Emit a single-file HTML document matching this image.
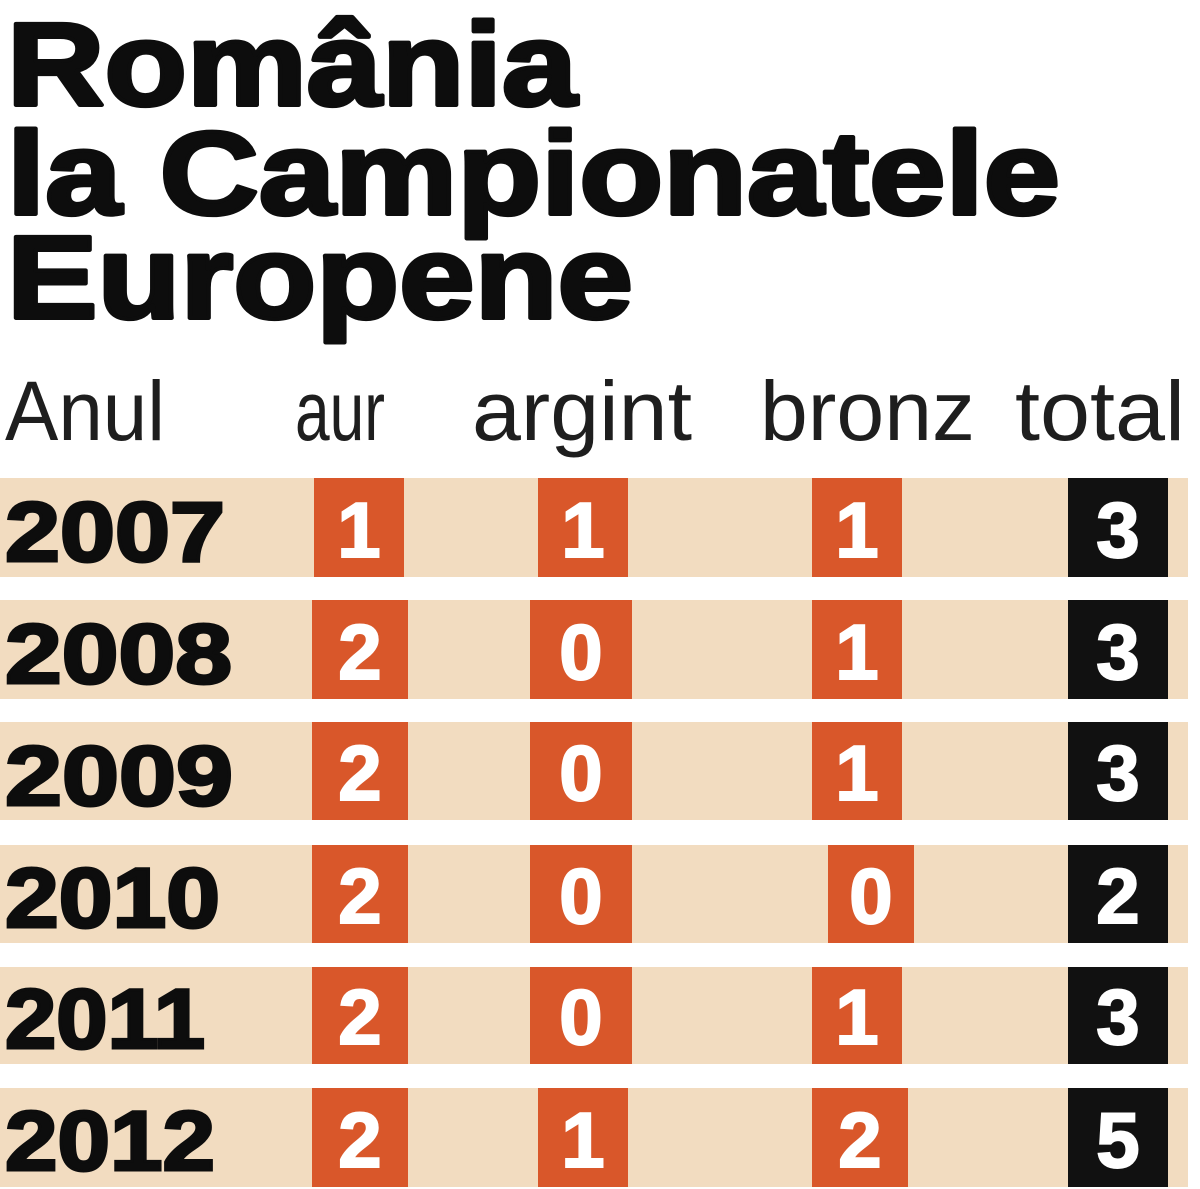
<!DOCTYPE html>
<html><head><meta charset="utf-8"><style>
html,body{margin:0;padding:0;background:#fff;}
svg{display:block;}
</style></head><body>
<svg width="1200" height="1189" viewBox="0 0 1200 1189" xmlns="http://www.w3.org/2000/svg">
<g font-family="Liberation Sans, Arial, sans-serif" font-weight="bold" fill="#0d0d0d" stroke="#0d0d0d" stroke-width="4" stroke-linejoin="round">
<text x="7" y="105" font-size="118" textLength="570" lengthAdjust="spacingAndGlyphs">România</text>
<text x="7" y="214" font-size="118" textLength="1053" lengthAdjust="spacingAndGlyphs">la Campionatele</text>
<text x="7" y="318" font-size="118" textLength="626" lengthAdjust="spacingAndGlyphs">Europene</text>
</g>
<g font-family="Liberation Sans, Arial, sans-serif" font-size="84" fill="#1e1e1e">
<text x="5" y="440" textLength="160" lengthAdjust="spacingAndGlyphs">Anul</text>
<text x="295" y="440" textLength="90" lengthAdjust="spacingAndGlyphs">aur</text>
<text x="472" y="440" textLength="220" lengthAdjust="spacingAndGlyphs">argint</text>
<text x="760" y="440" textLength="215" lengthAdjust="spacingAndGlyphs">bronz</text>
<text x="1015" y="440" textLength="170" lengthAdjust="spacingAndGlyphs">total</text>
</g>
<g fill="#f2dcc0">
<rect x="0" y="478" width="1188" height="99"/>
<rect x="0" y="600" width="1188" height="99"/>
<rect x="0" y="722" width="1188" height="98"/>
<rect x="0" y="845" width="1188" height="98"/>
<rect x="0" y="967" width="1188" height="97"/>
<rect x="0" y="1088" width="1188" height="99"/>
</g>
<g fill="#d9572a">
<rect x="314" y="478" width="90" height="99"/><rect x="538" y="478" width="90" height="99"/><rect x="812" y="478" width="90" height="99"/>
<rect x="312" y="600" width="96" height="99"/><rect x="530" y="600" width="102" height="99"/><rect x="812" y="600" width="90" height="99"/>
<rect x="312" y="722" width="96" height="98"/><rect x="530" y="722" width="102" height="98"/><rect x="812" y="722" width="90" height="98"/>
<rect x="312" y="845" width="96" height="98"/><rect x="530" y="845" width="102" height="98"/><rect x="828" y="845" width="86" height="98"/>
<rect x="312" y="967" width="96" height="97"/><rect x="530" y="967" width="102" height="97"/><rect x="812" y="967" width="90" height="97"/>
<rect x="312" y="1088" width="96" height="99"/><rect x="538" y="1088" width="90" height="99"/><rect x="812" y="1088" width="96" height="99"/>
</g>
<g fill="#111">
<rect x="1068" y="478" width="100" height="99"/>
<rect x="1068" y="600" width="100" height="99"/>
<rect x="1068" y="722" width="100" height="98"/>
<rect x="1068" y="845" width="100" height="98"/>
<rect x="1068" y="967" width="100" height="97"/>
<rect x="1068" y="1088" width="100" height="99"/>
</g>
<g font-family="Liberation Sans, Arial, sans-serif" font-weight="bold" font-size="84" fill="#0d0d0d" stroke="#0d0d0d" stroke-width="3">
<text x="5" y="561" textLength="220" lengthAdjust="spacingAndGlyphs">2007</text>
<text x="5" y="683" textLength="227" lengthAdjust="spacingAndGlyphs">2008</text>
<text x="5" y="805" textLength="228" lengthAdjust="spacingAndGlyphs">2009</text>
<text x="5" y="927" textLength="215" lengthAdjust="spacingAndGlyphs">2010</text>
<text x="5" y="1048" textLength="200" lengthAdjust="spacingAndGlyphs">2011</text>
<text x="5" y="1170" textLength="210" lengthAdjust="spacingAndGlyphs">2012</text>
</g>
<g font-family="Liberation Sans, Arial, sans-serif" font-weight="bold" font-size="78" fill="#fff" stroke="#fff" stroke-width="2" text-anchor="middle">
<text x="359" y="557">1</text><text x="583" y="557">1</text><text x="857" y="557">1</text><text x="1118" y="557">3</text>
<text x="360" y="679">2</text><text x="581" y="679">0</text><text x="857" y="679">1</text><text x="1118" y="679">3</text>
<text x="360" y="800">2</text><text x="581" y="800">0</text><text x="857" y="800">1</text><text x="1118" y="800">3</text>
<text x="360" y="923">2</text><text x="581" y="923">0</text><text x="871" y="923">0</text><text x="1118" y="923">2</text>
<text x="360" y="1044">2</text><text x="581" y="1044">0</text><text x="857" y="1044">1</text><text x="1118" y="1044">3</text>
<text x="360" y="1167">2</text><text x="583" y="1167">1</text><text x="860" y="1167">2</text><text x="1118" y="1167">5</text>
</g>
</svg>
</body></html>
